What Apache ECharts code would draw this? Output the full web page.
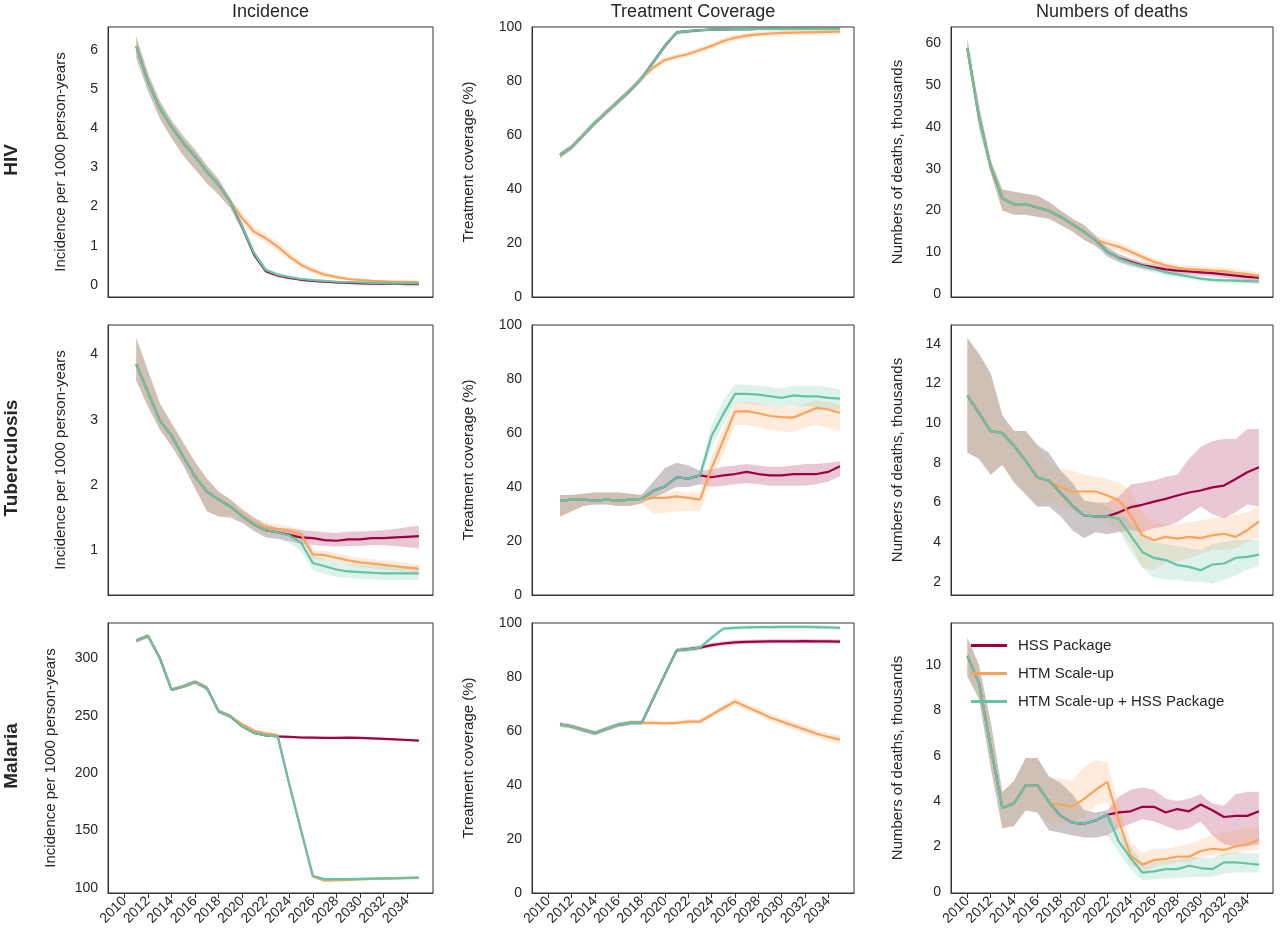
<!DOCTYPE html>
<html>
<head>
<meta charset="utf-8">
<script src="https://cdn.jsdelivr.net/npm/echarts@6/dist/echarts.min.js"></script>
<style>
  html, body { margin: 0; padding: 0; background: #fff; }
  #chart { width: 1280px; height: 945px; }
</style>
</head>
<body>
<div id="chart"></div>
<script>
// series names / colours
const seriesNames = ["HSS Package", "HTM Scale-up", "HTM Scale-up + HSS Package"];
const seriesColors = ["#9e0142", "#fba35b", "#66c2a5"];
const colTitles = ["Incidence", "Treatment Coverage", "Numbers of deaths"];
const rowTitles = ["HIV", "Tuberculosis", "Malaria"];
const xTicks = [2010, 2012, 2014, 2016, 2018, 2020, 2022, 2024, 2026, 2028, 2030, 2032, 2034];

// ---- HIV incidence (2011-2035) ----
const hivInc_m_head = [6.1, 5.19, 4.51, 4.04, 3.62, 3.28, 2.89, 2.55, 2.13];
const hivInc_lo_head = [5.8, 4.95, 4.25, 3.75, 3.3, 2.95, 2.6, 2.3, 1.95];
const hivInc_hi_head = [6.35, 5.4, 4.7, 4.2, 3.8, 3.45, 3.05, 2.7, 2.2];
const hivInc_m_hss = [1.47, 0.78, 0.35, 0.24, 0.18, 0.13, 0.1, 0.08, 0.06, 0.05, 0.04, 0.03, 0.03, 0.03, 0.02, 0.02];
const hivInc_lo_hss = [1.38, 0.7, 0.3, 0.19, 0.14, 0.1, 0.07, 0.05, 0.04, 0.03, 0.02, 0.02, 0.01, 0.01, 0.0, 0.0];
const hivInc_hi_hss = [1.56, 0.86, 0.41, 0.29, 0.22, 0.17, 0.13, 0.11, 0.09, 0.08, 0.07, 0.06, 0.05, 0.05, 0.04, 0.04];
const hivInc_m_htm = [1.7, 1.36, 1.19, 0.98, 0.72, 0.51, 0.37, 0.26, 0.2, 0.15, 0.12, 0.1, 0.09, 0.08, 0.08, 0.07];
const hivInc_lo_htm = [1.55, 1.25, 1.08, 0.86, 0.62, 0.43, 0.3, 0.21, 0.15, 0.11, 0.08, 0.07, 0.06, 0.05, 0.05, 0.04];
const hivInc_hi_htm = [1.85, 1.48, 1.3, 1.1, 0.84, 0.6, 0.45, 0.32, 0.25, 0.2, 0.16, 0.14, 0.12, 0.11, 0.11, 0.1];
const hivInc_m_both = [1.49, 0.81, 0.38, 0.26, 0.2, 0.15, 0.12, 0.1, 0.08, 0.07, 0.06, 0.05, 0.05, 0.04, 0.04, 0.04];
const hivInc_lo_both = [1.4, 0.72, 0.32, 0.21, 0.16, 0.11, 0.09, 0.07, 0.05, 0.04, 0.03, 0.03, 0.02, 0.02, 0.01, 0.01];
const hivInc_hi_both = [1.58, 0.9, 0.44, 0.31, 0.24, 0.19, 0.15, 0.13, 0.11, 0.1, 0.09, 0.08, 0.07, 0.07, 0.06, 0.06];

// ---- HIV treatment coverage (2011-2035) ----
const hivCov_m_head = [52.5, 55.5, 60, 64.5, 68.5, 72.5, 76.5, 81];
const hivCov_lo_head = [51.5, 54.5, 59, 63.5, 67.5, 71.5, 75.5, 80];
const hivCov_hi_head = [53.5, 56.5, 61, 65.5, 69.5, 73.5, 77.5, 82];
const hivCov_m_both = [87, 93, 98, 98.5, 98.8, 99, 99.1, 99.2, 99.2, 99.3, 99.3, 99.3, 99.3, 99.3, 99.3, 99.3, 99.3];
const hivCov_lo_both = [86, 92, 97.2, 97.8, 98.2, 98.5, 98.6, 98.7, 98.7, 98.8, 98.8, 98.8, 98.8, 98.8, 98.8, 98.8, 98.8];
const hivCov_hi_both = [88, 94, 98.6, 99, 99.3, 99.5, 99.6, 99.7, 99.7, 99.8, 99.8, 99.8, 99.8, 99.8, 99.8, 99.8, 99.8];
const hivCov_m_htm = [85, 87.8, 89, 90, 91.5, 93, 94.8, 96, 96.8, 97.3, 97.6, 97.8, 97.9, 98, 98.1, 98.2, 98.3];
const hivCov_lo_htm = [84, 86.8, 88, 89, 90.5, 92, 93.8, 95, 95.8, 96.3, 96.6, 96.8, 96.9, 97, 97.1, 97.2, 97.3];
const hivCov_hi_htm = [86, 88.8, 90, 91, 92.5, 94, 95.8, 97, 97.8, 98.3, 98.6, 98.8, 98.9, 99, 99.1, 99.2, 99.3];
// HSS package coincides with the combined scenario here
const hivCov_m_hss = hivCov_m_both, hivCov_lo_hss = hivCov_lo_both, hivCov_hi_hss = hivCov_hi_both;

// ---- HIV deaths (2010-2035) ----
const hivDth_m_head = [58.8, 42.4, 30.5, 22.9, 21.5, 21.5, 20.7, 19.9, 18.5, 16.7, 14.9, 12.9];
const hivDth_lo_head = [57, 40, 29, 20, 19, 19, 18.5, 18, 16.5, 15, 13, 11.5];
const hivDth_hi_head = [61, 45, 32, 25, 24.5, 24, 23.5, 22, 20, 18, 16.5, 14];
const hivDth_m_both = [10.1, 8.5, 7.5, 6.7, 6.0, 5.2, 4.7, 4.2, 3.7, 3.4, 3.3, 3.2, 3.1, 3.0];
const hivDth_lo_both = [9, 7.5, 6.6, 5.9, 5.2, 4.5, 4.0, 3.6, 3.1, 2.8, 2.7, 2.6, 2.5, 2.4];
const hivDth_hi_both = [11.2, 9.5, 8.4, 7.5, 6.8, 5.9, 5.4, 4.8, 4.3, 4.0, 3.9, 3.8, 3.7, 3.6];
const hivDth_m_hss = [10.1, 8.6, 7.7, 6.9, 6.4, 5.9, 5.6, 5.4, 5.2, 5.0, 4.7, 4.4, 4.1, 3.9];
const hivDth_lo_hss = [9, 7.6, 6.8, 6.1, 5.6, 5.1, 4.8, 4.6, 4.4, 4.2, 3.9, 3.6, 3.3, 3.1];
const hivDth_hi_hss = [11.2, 9.6, 8.6, 7.7, 7.2, 6.7, 6.4, 6.2, 6.0, 5.8, 5.5, 5.2, 4.9, 4.7];
const hivDth_m_htm = [12.1, 11.3, 10.1, 8.9, 7.7, 6.9, 6.3, 6.0, 5.8, 5.6, 5.5, 5.1, 4.8, 4.3];
const hivDth_lo_htm = [11, 10.2, 9.1, 7.9, 6.8, 6.1, 5.5, 5.2, 5.0, 4.8, 4.7, 4.3, 4.0, 3.5];
const hivDth_hi_htm = [13.2, 12.4, 11.1, 9.9, 8.6, 7.7, 7.1, 6.8, 6.6, 6.4, 6.3, 5.9, 5.6, 5.1];

// ---- TB incidence (2011-2035) ----
const tbInc_m_head = [3.85, 3.42, 2.99, 2.76, 2.43, 2.13, 1.90, 1.78];
const tbInc_lo_head = [3.6, 3.2, 2.85, 2.6, 2.3, 1.95, 1.6, 1.52];
const tbInc_hi_head = [4.25, 3.75, 3.25, 2.95, 2.65, 2.35, 2.1, 1.9];
const tbInc_m_both = [1.67, 1.53, 1.40, 1.31, 1.28, 1.23, 1.12, 0.81, 0.76, 0.71, 0.68, 0.67, 0.66, 0.65, 0.65, 0.65, 0.65];
const tbInc_lo_both = [1.5, 1.42, 1.3, 1.2, 1.18, 1.12, 0.98, 0.7, 0.64, 0.6, 0.58, 0.57, 0.56, 0.55, 0.55, 0.55, 0.55];
const tbInc_hi_both = [1.78, 1.62, 1.5, 1.4, 1.35, 1.3, 1.22, 0.92, 0.87, 0.82, 0.79, 0.78, 0.77, 0.76, 0.76, 0.76, 0.76];
const tbInc_m_hss = [1.67, 1.53, 1.40, 1.31, 1.28, 1.24, 1.20, 1.19, 1.16, 1.15, 1.17, 1.17, 1.19, 1.19, 1.2, 1.21, 1.22];
const tbInc_lo_hss = [1.5, 1.42, 1.3, 1.2, 1.18, 1.14, 1.1, 1.09, 1.07, 1.06, 1.07, 1.07, 1.08, 1.08, 1.07, 1.05, 1.03];
const tbInc_hi_hss = [1.78, 1.62, 1.5, 1.4, 1.35, 1.34, 1.31, 1.3, 1.28, 1.27, 1.29, 1.29, 1.3, 1.31, 1.33, 1.36, 1.38];
const tbInc_m_htm = [1.67, 1.55, 1.42, 1.35, 1.33, 1.30, 1.25, 0.94, 0.93, 0.89, 0.85, 0.82, 0.80, 0.78, 0.76, 0.74, 0.72];
const tbInc_lo_htm = [1.55, 1.45, 1.34, 1.27, 1.26, 1.23, 1.17, 0.87, 0.86, 0.82, 0.78, 0.75, 0.73, 0.71, 0.69, 0.67, 0.65];
const tbInc_hi_htm = [1.78, 1.65, 1.5, 1.43, 1.4, 1.37, 1.33, 1.01, 1.0, 0.96, 0.92, 0.89, 0.87, 0.85, 0.83, 0.81, 0.79];

// ---- TB treatment coverage (2011-2035) ----
const tbCov_m_head = [34.9, 35.3, 35.3, 34.9, 35.3, 34.9, 35.3, 35.6];
const tbCov_lo_head = [29, 31, 33, 33.5, 33.5, 33, 33, 34];
const tbCov_hi_head = [37, 37, 37.5, 38, 38, 38, 37.5, 37];
const tbCov_m_both = [38.6, 40.2, 43.6, 43.1, 44.3, 59, 67, 74.5, 74.5, 74.2, 73.6, 73, 73.9, 73.6, 73.6, 73, 72.7];
const tbCov_lo_both = [36, 38, 40, 40, 41, 55, 63, 71, 71, 70.5, 70, 69.5, 70, 70, 69.5, 69, 68.5];
const tbCov_hi_both = [42, 47, 49, 48, 46, 63, 72, 78, 78, 77.5, 77, 76.5, 77.5, 77.5, 77.5, 77, 76];
const tbCov_m_hss = [38.6, 40.2, 43.6, 43.1, 44.3, 43.6, 44.3, 44.8, 45.6, 44.8, 44.3, 44.3, 44.8, 44.8, 44.8, 45.6, 47.7];
const tbCov_lo_hss = [36, 38, 40, 40, 41, 40, 40.5, 41, 41.5, 41, 40.5, 40.5, 40.5, 40.5, 41, 42, 44];
const tbCov_hi_hss = [42, 47, 49, 48, 46, 46.5, 47.5, 48, 48.5, 48, 47.5, 47.5, 48, 48.5, 48.5, 49, 49.5];
const tbCov_m_htm = [36, 36, 36.5, 36, 35.3, 47, 57.4, 67.9, 68.1, 67.3, 66.3, 65.9, 65.7, 67.5, 69.3, 68.7, 67.5];
const tbCov_lo_htm = [30, 30.5, 31, 31, 31, 43, 52, 63, 63, 62, 61, 60.5, 60.5, 62, 63, 62, 60.5];
const tbCov_hi_htm = [38, 38, 38.5, 38, 38, 51, 62, 71, 71.5, 71, 70, 69.5, 69.5, 71, 72, 71.5, 70.5];

// ---- TB deaths (2010-2035) ----
const tbDth_m_head = [11.4, 10.5, 9.6, 9.5, 8.85, 8.1, 7.26];
const tbDth_lo_head = [8.5, 8.2, 7.4, 7.9, 7.0, 6.4, 5.8];
const tbDth_hi_head = [14.3, 13.5, 12.5, 10.4, 9.6, 9.6, 8.9];
const tbDth_m_both = [7.1, 6.48, 5.84, 5.34, 5.3, 5.3, 5.17, 4.34, 3.5, 3.2, 3.09, 2.84, 2.75, 2.58, 2.87, 2.92, 3.2, 3.25, 3.37];
const tbDth_lo_both = [5.8, 5.3, 4.6, 4.2, 4.5, 4.4, 4.6, 3.5, 2.7, 2.2, 2.1, 2.1, 2.0, 2.0, 1.9, 2.1, 2.3, 2.6, 2.8];
const tbDth_hi_both = [8.5, 7.6, 7.0, 6.1, 6.0, 5.8, 5.5, 5.0, 4.4, 4.0, 3.9, 3.8, 3.7, 3.6, 3.9, 4.0, 4.1, 4.1, 4.1];
const tbDth_m_hss = [7.1, 6.48, 5.84, 5.34, 5.3, 5.3, 5.5, 5.76, 5.88, 6.04, 6.18, 6.35, 6.5, 6.6, 6.76, 6.85, 7.18, 7.52, 7.77];
const tbDth_lo_hss = [5.8, 5.3, 4.6, 4.2, 4.5, 4.4, 4.5, 4.6, 4.5, 4.7, 4.8, 5.0, 5.4, 5.8, 5.4, 5.2, 5.5, 5.9, 5.8];
const tbDth_hi_hss = [8.5, 7.6, 7.0, 6.1, 6.0, 6.0, 6.3, 6.9, 7.0, 7.1, 7.3, 7.4, 8.2, 8.8, 9.1, 9.2, 9.2, 9.7, 9.7];
const tbDth_m_htm = [7.1, 6.76, 6.55, 6.55, 6.55, 6.35, 6.1, 5.34, 4.34, 4.09, 4.26, 4.17, 4.26, 4.2, 4.34, 4.42, 4.26, 4.6, 5.04];
const tbDth_lo_htm = [6.1, 5.8, 5.6, 5.5, 5.4, 5.0, 4.6, 3.9, 2.7, 2.6, 3.0, 3.0, 3.2, 3.4, 3.6, 3.6, 3.7, 4.0, 4.2];
const tbDth_hi_htm = [7.9, 7.7, 7.6, 7.4, 7.3, 7.2, 7.0, 6.6, 5.5, 5.0, 4.9, 4.9, 5.0, 5.1, 5.2, 5.3, 5.4, 5.5, 5.8];

// ---- Malaria incidence (2011-2035) ----
const malInc_m_head = [315.3, 319.3, 300, 272.5, 275.4, 279.2, 274, 253.7, 249.4];
const malInc_lo_head = [313.5, 317.5, 298, 271, 274, 277.5, 272, 252, 247.5];
const malInc_hi_head = [317, 321, 302, 274, 277, 281, 276, 255.5, 251];
const malInc_m_hss = [240.7, 235, 232.9, 232, 231.5, 231, 230.8, 230.6, 230.7, 230.8, 230.6, 230.3, 229.8, 229.3, 228.8, 228.3];
const malInc_lo_hss = [239.5, 234, 232, 231, 230.5, 230, 229.8, 229.6, 229.7, 229.8, 229.6, 229.3, 228.8, 228.3, 227.8, 227.3];
const malInc_hi_hss = [242, 236, 234, 233, 232.5, 232, 231.8, 231.6, 231.7, 231.8, 231.6, 231.3, 230.8, 230.3, 229.8, 229.3];
const malInc_m_htm = [242.5, 237, 234.5, 233, 190, 150, 110, 106.5, 106.8, 107.2, 107.6, 108, 108.2, 108.4, 108.6, 108.8];
const malInc_lo_htm = [241, 235.8, 233.3, 231.8, 188.8, 148.8, 108.8, 105.3, 105.6, 106, 106.4, 106.8, 107, 107.2, 107.4, 107.6];
const malInc_hi_htm = [244, 238.2, 235.7, 234.2, 191.2, 151.2, 111.2, 107.7, 108, 108.4, 108.8, 109.2, 109.4, 109.6, 109.8, 110];
const malInc_m_both = [240.7, 235, 232.9, 232, 190, 150, 110.6, 107.7, 107.7, 107.8, 108, 108.2, 108.4, 108.6, 108.9, 109.2];
const malInc_lo_both = [239.5, 234, 232, 231, 189, 149, 109.6, 106.7, 106.7, 106.8, 107, 107.2, 107.4, 107.6, 107.9, 108.2];
const malInc_hi_both = [242, 236, 234, 233, 191, 151, 111.6, 108.7, 108.7, 108.8, 109, 109.2, 109.4, 109.6, 109.9, 110.2];

// ---- Malaria treatment coverage (2011-2035) ----
const malCov_m_head = [62.4, 61.7, 60.4, 59.2, 60.8, 62.3, 63, 63];
const malCov_lo_head = [61.6, 60.9, 59.6, 58.4, 60, 61.5, 62.2, 62.2];
const malCov_hi_head = [63.2, 62.5, 61.2, 60, 61.6, 63.1, 63.8, 63.8];
const malCov_m_both = [72, 81, 89.9, 90.3, 90.9, 94.6, 97.9, 98.2, 98.4, 98.5, 98.5, 98.6, 98.6, 98.6, 98.5, 98.4, 98.2];
const malCov_lo_both = [71.2, 80.2, 89.1, 89.5, 90.1, 93.8, 97.2, 97.5, 97.7, 97.8, 97.8, 97.9, 97.9, 97.9, 97.8, 97.7, 97.5];
const malCov_hi_both = [72.8, 81.8, 90.7, 91.1, 91.7, 95.4, 98.6, 98.9, 99.1, 99.2, 99.2, 99.3, 99.3, 99.3, 99.2, 99.1, 98.9];
const malCov_m_hss = [72, 81, 89.9, 90.3, 90.9, 91.8, 92.4, 92.8, 93, 93.1, 93.2, 93.2, 93.2, 93.3, 93.2, 93.2, 93.1];
const malCov_lo_hss = [71.2, 80.2, 89.1, 89.5, 90.1, 91, 91.6, 92, 92.2, 92.3, 92.4, 92.4, 92.4, 92.5, 92.4, 92.4, 92.3];
const malCov_hi_hss = [72.8, 81.8, 90.7, 91.1, 91.7, 92.6, 93.2, 93.6, 93.8, 93.9, 94, 94, 94, 94.1, 94, 94, 93.9];
const malCov_m_htm = [63, 62.8, 63, 63.5, 63.5, 66, 68.5, 70.9, 68.9, 67, 65, 63.5, 62, 60.5, 59, 57.8, 56.8];
const malCov_lo_htm = [62.2, 62, 62.2, 62.6, 62.6, 65, 67.3, 69.5, 67.6, 65.7, 63.7, 62.1, 60.6, 59.1, 57.6, 56.3, 55.3];
const malCov_hi_htm = [63.8, 63.6, 63.8, 64.4, 64.4, 67, 69.7, 72.3, 70.2, 68.3, 66.3, 64.9, 63.4, 61.9, 60.4, 59.3, 58.3];

// ---- Malaria deaths (2010-2035) ----
const malDth_m_head = [10.4, 9.2, 6.4, 3.7, 3.9, 4.7, 4.7];
const malDth_lo_head = [9.5, 8.5, 5.5, 2.8, 2.9, 3.6, 3.5];
const malDth_hi_head = [11.2, 10, 7.5, 4.4, 4.9, 5.9, 5.9];
const malDth_m_both = [3.95, 3.35, 3.05, 3.0, 3.15, 3.4, 2.2, 1.5, 0.85, 0.9, 1.0, 1.0, 1.15, 1.05, 1.0, 1.3, 1.3, 1.25, 1.2];
const malDth_lo_both = [2.7, 2.6, 2.5, 2.4, 2.4, 2.5, 1.7, 1.0, 0.5, 0.55, 0.6, 0.6, 0.65, 0.65, 0.65, 0.8, 0.85, 0.85, 0.85];
const malDth_hi_both = [5.1, 4.8, 4.3, 3.6, 3.5, 3.6, 2.7, 2.0, 1.3, 1.3, 1.4, 1.4, 1.55, 1.5, 1.5, 1.7, 1.75, 1.7, 1.7];
const malDth_m_hss = [3.95, 3.35, 3.05, 3.0, 3.15, 3.4, 3.5, 3.55, 3.75, 3.75, 3.5, 3.65, 3.55, 3.85, 3.6, 3.3, 3.35, 3.35, 3.55];
const malDth_lo_hss = [2.7, 2.6, 2.5, 2.4, 2.4, 2.5, 2.8, 3.0, 3.2, 3.1, 2.9, 2.7, 2.8, 3.1, 2.5, 2.1, 2.0, 2.0, 2.1];
const malDth_hi_hss = [5.1, 4.8, 4.3, 3.6, 3.5, 3.6, 4.2, 4.5, 4.6, 4.5, 4.1, 4.0, 4.1, 4.3, 3.9, 3.8, 4.3, 4.4, 4.4];
const malDth_m_htm = [3.9, 3.85, 3.75, 4.1, 4.5, 4.85, 3.1, 1.6, 1.2, 1.4, 1.45, 1.55, 1.55, 1.8, 1.9, 1.85, 2.0, 2.1, 2.3];
const malDth_lo_htm = [3.0, 3.0, 3.1, 3.3, 3.8, 4.0, 2.5, 1.2, 0.9, 1.1, 1.2, 1.3, 1.3, 1.5, 1.6, 1.6, 1.7, 1.8, 1.9];
const malDth_hi_htm = [5.0, 5.0, 4.9, 5.5, 5.8, 5.7, 3.8, 2.2, 1.7, 1.9, 1.9, 2.0, 2.1, 2.3, 2.5, 2.6, 2.7, 2.8, 2.8];

// build scenario (head + tail) triples
function sc(mh, lh, hh, mt, lt, ht) {
  return { m: mh.concat(mt), lo: lh.concat(lt), hi: hh.concat(ht) };
}

const panels = [
  { row: 0, col: 0, start: 2011, ymin: -0.31, ymax: 6.59, yticks: [0, 1, 2, 3, 4, 5, 6],
    ylabel: "Incidence per 1000 person-years", gap: 40,
    s: [sc(hivInc_m_head, hivInc_lo_head, hivInc_hi_head, hivInc_m_hss, hivInc_lo_hss, hivInc_hi_hss),
        sc(hivInc_m_head, hivInc_lo_head, hivInc_hi_head, hivInc_m_htm, hivInc_lo_htm, hivInc_hi_htm),
        sc(hivInc_m_head, hivInc_lo_head, hivInc_hi_head, hivInc_m_both, hivInc_lo_both, hivInc_hi_both)] },
  { row: 0, col: 1, start: 2011, ymin: 0, ymax: 100, yticks: [0, 20, 40, 60, 80, 100],
    ylabel: "Treatment coverage (%)", gap: 56,
    s: [sc(hivCov_m_head, hivCov_lo_head, hivCov_hi_head, hivCov_m_hss, hivCov_lo_hss, hivCov_hi_hss),
        sc(hivCov_m_head, hivCov_lo_head, hivCov_hi_head, hivCov_m_htm, hivCov_lo_htm, hivCov_hi_htm),
        sc(hivCov_m_head, hivCov_lo_head, hivCov_hi_head, hivCov_m_both, hivCov_lo_both, hivCov_hi_both)] },
  { row: 0, col: 2, start: 2010, ymin: -0.7, ymax: 63.9, yticks: [0, 10, 20, 30, 40, 50, 60],
    ylabel: "Numbers of deaths, thousands", gap: 46,
    s: [sc(hivDth_m_head, hivDth_lo_head, hivDth_hi_head, hivDth_m_hss, hivDth_lo_hss, hivDth_hi_hss),
        sc(hivDth_m_head, hivDth_lo_head, hivDth_hi_head, hivDth_m_htm, hivDth_lo_htm, hivDth_hi_htm),
        sc(hivDth_m_head, hivDth_lo_head, hivDth_hi_head, hivDth_m_both, hivDth_lo_both, hivDth_hi_both)] },
  { row: 1, col: 0, start: 2011, ymin: 0.32, ymax: 4.45, yticks: [1, 2, 3, 4],
    ylabel: "Incidence per 1000 person-years", gap: 40,
    s: [sc(tbInc_m_head, tbInc_lo_head, tbInc_hi_head, tbInc_m_hss, tbInc_lo_hss, tbInc_hi_hss),
        sc(tbInc_m_head, tbInc_lo_head, tbInc_hi_head, tbInc_m_htm, tbInc_lo_htm, tbInc_hi_htm),
        sc(tbInc_m_head, tbInc_lo_head, tbInc_hi_head, tbInc_m_both, tbInc_lo_both, tbInc_hi_both)] },
  { row: 1, col: 1, start: 2011, ymin: 0, ymax: 100, yticks: [0, 20, 40, 60, 80, 100],
    ylabel: "Treatment coverage (%)", gap: 56,
    s: [sc(tbCov_m_head, tbCov_lo_head, tbCov_hi_head, tbCov_m_hss, tbCov_lo_hss, tbCov_hi_hss),
        sc(tbCov_m_head, tbCov_lo_head, tbCov_hi_head, tbCov_m_htm, tbCov_lo_htm, tbCov_hi_htm),
        sc(tbCov_m_head, tbCov_lo_head, tbCov_hi_head, tbCov_m_both, tbCov_lo_both, tbCov_hi_both)] },
  { row: 1, col: 2, start: 2010, ymin: 1.33, ymax: 14.95, yticks: [2, 4, 6, 8, 10, 12, 14],
    ylabel: "Numbers of deaths, thousands", gap: 46,
    s: [sc(tbDth_m_head, tbDth_lo_head, tbDth_hi_head, tbDth_m_hss, tbDth_lo_hss, tbDth_hi_hss),
        sc(tbDth_m_head, tbDth_lo_head, tbDth_hi_head, tbDth_m_htm, tbDth_lo_htm, tbDth_hi_htm),
        sc(tbDth_m_head, tbDth_lo_head, tbDth_hi_head, tbDth_m_both, tbDth_lo_both, tbDth_hi_both)] },
  { row: 2, col: 0, start: 2011, ymin: 95.7, ymax: 330.6, yticks: [100, 150, 200, 250, 300],
    ylabel: "Incidence per 1000 person-years", gap: 50,
    s: [sc(malInc_m_head, malInc_lo_head, malInc_hi_head, malInc_m_hss, malInc_lo_hss, malInc_hi_hss),
        sc(malInc_m_head, malInc_lo_head, malInc_hi_head, malInc_m_htm, malInc_lo_htm, malInc_hi_htm),
        sc(malInc_m_head, malInc_lo_head, malInc_hi_head, malInc_m_both, malInc_lo_both, malInc_hi_both)] },
  { row: 2, col: 1, start: 2011, ymin: 0, ymax: 100, yticks: [0, 20, 40, 60, 80, 100],
    ylabel: "Treatment coverage (%)", gap: 56,
    s: [sc(malCov_m_head, malCov_lo_head, malCov_hi_head, malCov_m_hss, malCov_lo_hss, malCov_hi_hss),
        sc(malCov_m_head, malCov_lo_head, malCov_hi_head, malCov_m_htm, malCov_lo_htm, malCov_hi_htm),
        sc(malCov_m_head, malCov_lo_head, malCov_hi_head, malCov_m_both, malCov_lo_both, malCov_hi_both)] },
  { row: 2, col: 2, start: 2010, ymin: -0.05, ymax: 11.85, yticks: [0, 2, 4, 6, 8, 10],
    ylabel: "Numbers of deaths, thousands", gap: 46,
    s: [sc(malDth_m_head, malDth_lo_head, malDth_hi_head, malDth_m_hss, malDth_lo_hss, malDth_hi_hss),
        sc(malDth_m_head, malDth_lo_head, malDth_hi_head, malDth_m_htm, malDth_lo_htm, malDth_hi_htm),
        sc(malDth_m_head, malDth_lo_head, malDth_hi_head, malDth_m_both, malDth_lo_both, malDth_hi_both)] },
];

// layout
const colLeft = [108, 532, 951];
const colWidth = [325, 322, 322];
const rowTop = [27, 325, 623];
const panelH = 270;
const FONT = "Liberation Sans, Arial, sans-serif";
const TXT = "#262626";

const grids = [], xAxes = [], yAxes = [], series = [];

// uncertainty band drawn as one polygon through the axis scales
function bandRender(color) {
  return function (params, api) {
    if (params.dataIndex !== 0) return;
    const n = params.dataInsideLength;
    const upper = [], lower = [];
    for (let j = 0; j < n; j++) {
      upper.push(api.coord([api.value(0, j), api.value(2, j)]));
      lower.push(api.coord([api.value(0, j), api.value(1, j)]));
    }
    return {
      type: "polygon",
      shape: { points: upper.concat(lower.reverse()) },
      style: { fill: color, opacity: 0.22 },
      silent: true,
    };
  };
}

panels.forEach((p, i) => {
  grids.push({
    left: colLeft[p.col], top: rowTop[p.row], width: colWidth[p.col], height: panelH,
    show: true, borderColor: "#333", borderWidth: 1, backgroundColor: "#fff",
  });
  const bottomRow = p.row === 2;
  xAxes.push({
    gridIndex: i, type: "value", min: 2008.6, max: 2036.2,
    splitLine: { show: false },
    axisLine: { show: true, onZero: false, lineStyle: { color: "#333" } },
    axisTick: { show: bottomRow, length: 5, customValues: xTicks },
    axisLabel: { show: bottomRow, customValues: xTicks, rotate: 45, fontSize: 14, color: TXT,
      fontFamily: FONT, margin: 6, formatter: (v) => String(v) },
  });
  yAxes.push({
    gridIndex: i, type: "value", min: p.ymin, max: p.ymax,
    name: p.ylabel, nameLocation: "middle", nameGap: p.gap,
    nameTextStyle: { fontSize: 15, color: TXT, fontFamily: FONT },
    splitLine: { show: false },
    axisLine: { show: true, onZero: false, lineStyle: { color: "#333" } },
    axisTick: { show: false },
    axisLabel: { customValues: p.yticks, fontSize: 14, color: TXT, fontFamily: FONT, margin: 10 },
  });

  p.s.forEach((d, k) => {
    const yrs = d.m.map((_, j) => p.start + j);
    series.push({
      type: "custom", name: "_band", xAxisIndex: i, yAxisIndex: i,
      data: d.lo.map((v, j) => [yrs[j], v, d.hi[j]]),
      encode: { x: 0, y: [1, 2] },
      renderItem: bandRender(seriesColors[k]),
      clip: true, silent: true,
    });
    series.push({
      type: "line", name: seriesNames[k], xAxisIndex: i, yAxisIndex: i,
      data: d.m.map((v, j) => [yrs[j], v]),
      symbol: "none", lineStyle: { color: seriesColors[k], width: 2.2 },
      itemStyle: { color: seriesColors[k] },
    });
  });
});

const graphics = [];
colTitles.forEach((t, c) => {
  graphics.push({ type: "text", x: colLeft[c] + colWidth[c] / 2, y: 12,
    style: { text: t, fill: TXT, font: "18px " + FONT, align: "center", verticalAlign: "middle" } });
});
rowTitles.forEach((t, r) => {
  graphics.push({ type: "text", x: 12, y: rowTop[r] + panelH / 2 - 2, rotation: Math.PI / 2,
    style: { text: t, fill: TXT, font: "bold 19px " + FONT, align: "center", verticalAlign: "middle" } });
});

const myChart = echarts.init(document.getElementById("chart"));
myChart.setOption({
  animation: false,
  backgroundColor: "#fff",
  grid: grids,
  xAxis: xAxes,
  yAxis: yAxes,
  series: series,
  graphic: graphics,
  legend: {
    data: seriesNames, orient: "vertical", left: 966, top: 633,
    icon: "rect", itemWidth: 36, itemHeight: 3, itemGap: 13,
    textStyle: { fontSize: 15, color: TXT, fontFamily: FONT, padding: [0, 0, 0, 6] },
  },
});
</script>
</body>
</html>
